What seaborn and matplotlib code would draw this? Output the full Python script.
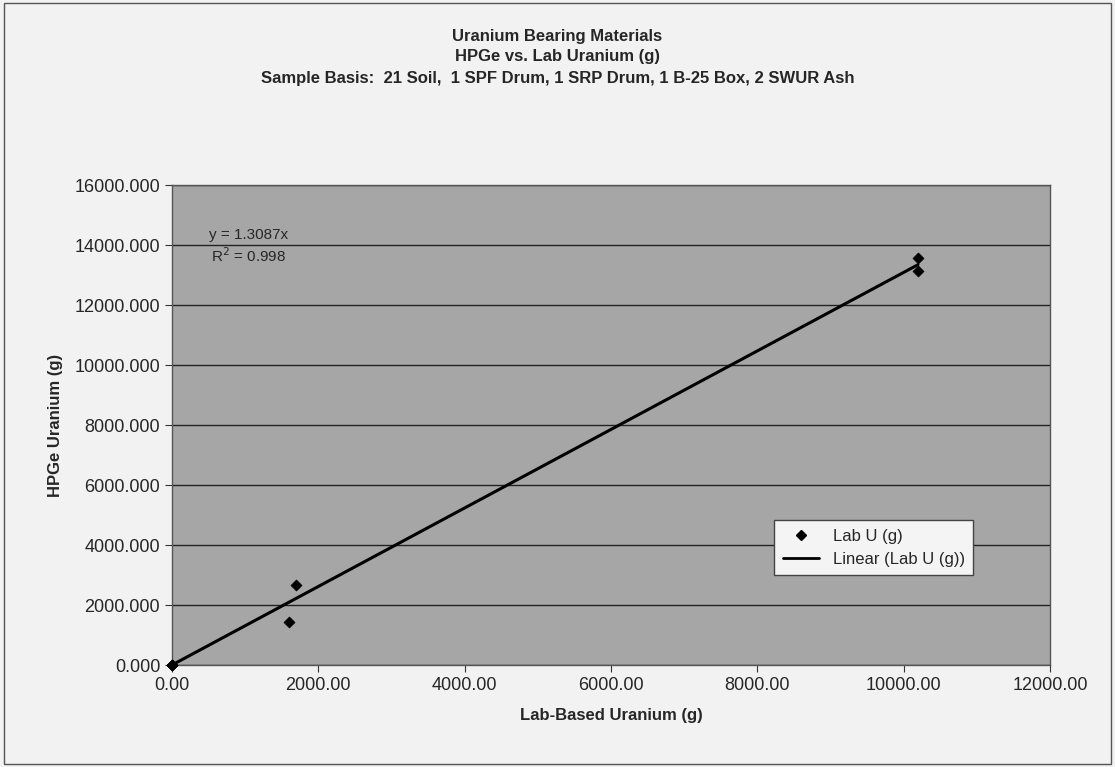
import numpy as np
import pandas as pd
import matplotlib
matplotlib.use('Agg')
import matplotlib.pyplot as plt
import seaborn as sns
from matplotlib.lines import Line2D

# data
lab_u = [0.0, 0.0, 0.0, 1600.0, 1695.0, 10195.0, 10195.0]
hpge_u = [0.0, 0.0, 0.0, 1433.0, 2667.0, 13567.0, 13133.0]
slope = 1.3087
fit_x = [0.0, 10195.0]

df = pd.DataFrame({'lab': lab_u, 'hpge': hpge_u})

sns.set_style("white")
plt.rcParams['font.family'] = ['Liberation Sans', 'DejaVu Sans']

fig = plt.figure(figsize=(11.15, 7.67), dpi=100, facecolor='#f2f2f2')
ax = fig.add_axes([172 / 1115, 1 - 665 / 767, (1050 - 172) / 1115, (665 - 185) / 767])
ax.set_facecolor('#a6a6a6')

# outer border of the chart
fig.patches.append(plt.Rectangle((0.004, 0.004), 0.992, 0.992, transform=fig.transFigure,
                                 fill=False, edgecolor='#555555', linewidth=1))

fit_y = [slope * v for v in fit_x]
ax.plot(fit_x, fit_y, color='black', linewidth=2.2, zorder=3)
sns.scatterplot(data=df, x='lab', y='hpge', marker='D', s=32, color='black',
                edgecolor='black', ax=ax, zorder=4, clip_on=False)

ax.set_xlim(0, 12000)
ax.set_ylim(0, 16000)
ax.set_xticks(np.arange(0, 12001, 2000))
ax.set_yticks(np.arange(0, 16001, 2000))
ax.set_xticklabels([f'{v:.2f}' for v in np.arange(0, 12001, 2000)], fontsize=13)
ax.set_yticklabels([f'{v:.3f}' for v in np.arange(0, 16001, 2000)], fontsize=13)
ax.yaxis.grid(True, color='#222222', linewidth=1)
ax.xaxis.grid(False)
ax.tick_params(axis='both', which='both', length=5, direction='out', color='#333333',
               left=True, bottom=True)
for s in ax.spines.values():
    s.set_color('#555555')
    s.set_linewidth(1)

ax.set_xlabel('Lab-Based Uranium (g)', fontsize=12, fontweight='bold', labelpad=10)
ax.set_ylabel('HPGe Uranium (g)', fontsize=12, fontweight='bold', labelpad=8)

fig.text(0.5, 1 - 36 / 767, 'Uranium Bearing Materials', ha='center', va='center',
         fontsize=12, fontweight='bold')
fig.text(0.5, 1 - 57 / 767, 'HPGe vs. Lab Uranium (g)', ha='center', va='center',
         fontsize=12, fontweight='bold')
fig.text(0.5, 1 - 78 / 767, 'Sample Basis:  21 Soil,  1 SPF Drum, 1 SRP Drum, 1 B-25 Box, 2 SWUR Ash',
         ha='center', va='center', fontsize=12, fontweight='bold')

ax.text(1050, 14330, 'y = 1.3087x', fontsize=11, ha='center', va='center')
ax.text(1050, 13630, 'R$^2$ = 0.998', fontsize=11, ha='center', va='center')

handles = [Line2D([], [], marker='D', color='black', linestyle='None', markersize=5),
           Line2D([], [], color='black', linewidth=2)]
leg = ax.legend(handles, ['Lab U (g)', 'Linear (Lab U (g))'], loc='upper left',
                bbox_to_anchor=((766 - 172) / 878, (665 - 512) / 480), fontsize=12,
                frameon=True, fancybox=False, handlelength=2.2, borderpad=0.5)
leg.get_frame().set_facecolor('#f4f4f4')
leg.get_frame().set_edgecolor('#444444')
leg.get_frame().set_alpha(1)

fig.savefig('out.png', dpi=100, facecolor=fig.get_facecolor())
